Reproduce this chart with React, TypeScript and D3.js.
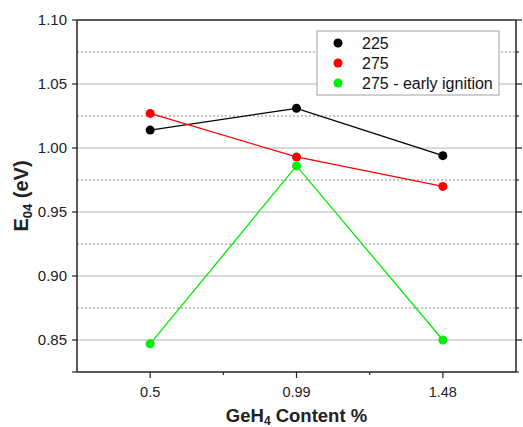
import React from "react";
import * as d3 from "d3";

const categories = [0.5, 0.99, 1.48];
const tickLabels = ["0.5", "0.99", "1.48"];
const minorX = [0.745, 1.235];
const series225 = [1.014, 1.031, 0.994];
const series275 = [1.027, 0.993, 0.97];
const series275Early = [0.847, 0.986, 0.85];
const yMajor = [0.85, 0.9, 0.95, 1.0, 1.05, 1.1];
const yMinor = [0.875, 0.925, 0.975, 1.025, 1.075];
const legendNames = ["225", "275", "275 - early ignition"];
const colors = ["#000000", "#ff0000", "#00ee00"];

export default function App() {
  const W = 523, H = 427;
  const left = 77, right = 516, top = 20, bottom = 372;
  const x = d3.scaleLinear().domain([0.255, 1.725]).range([left, right]);
  const y = d3.scaleLinear().domain([0.825, 1.1]).range([bottom, top]);
  const allSeries = [series225, series275, series275Early];
  const line = d3
    .line<number>()
    .x((_, i) => x(categories[i]))
    .y((d) => y(d));
  const font = "Arial, 'Liberation Sans', sans-serif";
  return (
    <svg
      width={W}
      height={H}
      style={{ position: "absolute", left: 0, top: 0, background: "#fff" }}
      fontFamily={font}
    >
      <rect x={0} y={0} width={W} height={H} fill="#fff" />
      {yMajor.slice(0, -1).map((v) => (
        <line key={"g" + v} x1={left} x2={right} y1={y(v)} y2={y(v)} stroke="#b4b4b4" strokeWidth={1} />
      ))}
      {yMinor.map((v) => (
        <line key={"m" + v} x1={left} x2={right} y1={y(v)} y2={y(v)} stroke="#8c8c8c" strokeWidth={1} strokeDasharray="2,2" />
      ))}
      {/* frame */}
      <line x1={left} x2={right} y1={top} y2={top} stroke="#222" strokeWidth={1.5} />
      <line x1={left} x2={right} y1={bottom} y2={bottom} stroke="#222" strokeWidth={1.5} />
      <line x1={left} x2={left} y1={top} y2={bottom} stroke="#222" strokeWidth={1.5} />
      <line x1={right} x2={right} y1={top} y2={bottom} stroke="#222" strokeWidth={1.5} />
      {/* y ticks */}
      {yMajor.map((v) => (
        <g key={"yt" + v}>
          <line x1={left - 5} x2={left} y1={y(v)} y2={y(v)} stroke="#222" strokeWidth={1.2} />
          <line x1={right} x2={right + 6} y1={y(v)} y2={y(v)} stroke="#222" strokeWidth={1.2} />
          <text x={left - 10} y={y(v)} dy="0.35em" textAnchor="end" fontSize={15} fill="#222">
            {v.toFixed(2)}
          </text>
        </g>
      ))}
      {yMinor.map((v) => (
        <line key={"ymt" + v} x1={right} x2={right + 3} y1={y(v)} y2={y(v)} stroke="#222" strokeWidth={1.2} />
      ))}
      <line x1={right} x2={right + 3} y1={bottom} y2={bottom} stroke="#222" strokeWidth={1.2} />
      <line x1={left - 5} x2={left} y1={bottom} y2={bottom} stroke="#222" strokeWidth={1.2} />
      {/* x ticks */}
      {categories.map((c, i) => (
        <g key={"xt" + c}>
          <line x1={x(c)} x2={x(c)} y1={bottom} y2={bottom + 6} stroke="#222" strokeWidth={1.2} />
          <text x={x(c)} y={bottom + 25} textAnchor="middle" fontSize={14.5} fill="#222">
            {tickLabels[i]}
          </text>
        </g>
      ))}
      {minorX.map((c) => (
        <line key={"xm" + c} x1={x(c)} x2={x(c)} y1={bottom} y2={bottom + 3} stroke="#222" strokeWidth={1.2} />
      ))}
      {/* series */}
      {allSeries.map((s, k) => (
        <g key={"s" + k}>
          <path d={line(s) || ""} fill="none" stroke={colors[k]} strokeWidth={1.3} />
          {s.map((v, i) => (
            <circle key={i} cx={x(categories[i])} cy={y(v)} r={4.5} fill={colors[k]} />
          ))}
        </g>
      ))}
      {/* legend */}
      <rect x={317} y={31} width={182} height={64} fill="#fff" stroke="#a0a0a0" strokeWidth={1} />
      {legendNames.map((n, i) => (
        <g key={n}>
          <circle cx={338} cy={43 + i * 20} r={4.5} fill={colors[i]} />
          <text x={362} y={43 + i * 20} dy="0.36em" fontSize={16} fill="#111">
            {n}
          </text>
        </g>
      ))}
      {/* axis titles */}
      <text x={(left + right) / 2} y={422} textAnchor="middle" fontSize={18.5} fontWeight="bold" fill="#222">
        GeH<tspan fontSize={12} dy={3}>4</tspan>
        <tspan dy={-3}> Content %</tspan>
      </text>
      <text
        transform={`translate(28,${(top + bottom) / 2}) rotate(-90)`}
        textAnchor="middle"
        fontSize={20}
        fontWeight="bold"
        fill="#222"
      >
        E<tspan fontSize={13} dy={4}>04</tspan>
        <tspan dy={-4}> (eV)</tspan>
      </text>
    </svg>
  );
}
